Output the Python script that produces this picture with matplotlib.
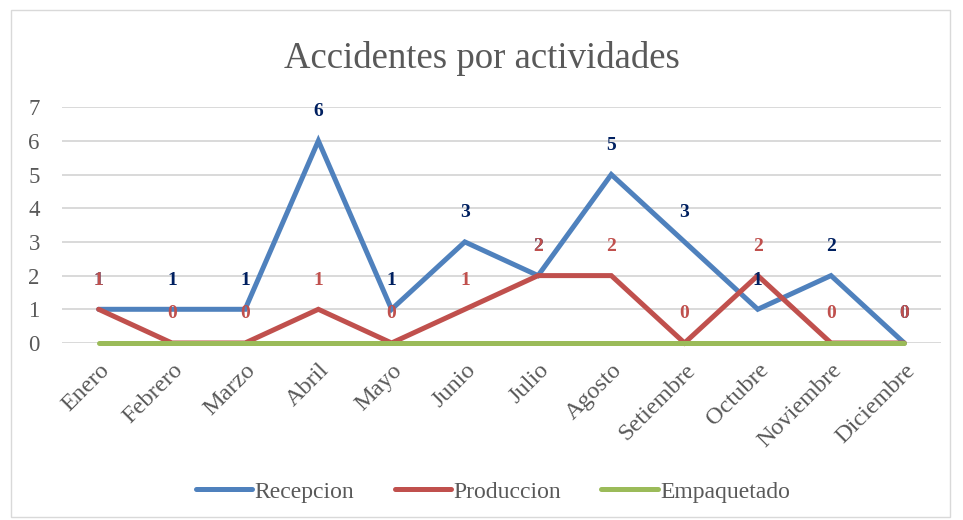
#!/usr/bin/python
########################
# PURPOSE: accidentes por actividades, line chart
########################

#################################
# Importing Modules
#################################
import matplotlib
matplotlib.use("Agg")
import matplotlib.pyplot as plt
from matplotlib.patches import Rectangle

#################################
# Defining Constants
#################################
meses = ["Enero", "Febrero", "Marzo", "Abril", "Mayo", "Junio", "Julio",
         "Agosto", "Setiembre", "Octubre", "Noviembre", "Diciembre"]
recepcion = [1, 1, 1, 6, 1, 3, 2, 5, 3, 1, 2, 0]
produccion = [1, 0, 0, 1, 0, 1, 2, 2, 0, 2, 0, 0]
empaquetado = [0, 0, 0, 0, 0, 0, 0, 0, 0, 0, 0, 0]

AZUL = "#4F81BD"
ROJO = "#C0504D"
VERDE = "#9BBB59"
GRIS = "#595959"
NAVY = "#002060"

#################################
# Performing Work
#################################
plt.rcParams["font.family"] = ["Liberation Serif", "DejaVu Serif"]

fig = plt.figure(figsize=(9.63, 5.20), dpi=100)
ax = fig.add_axes([0.0644, 0.3404, 0.977 - 0.0644, 0.794 - 0.3404])

x = list(range(len(meses)))
kw = dict(linewidth=3.6, solid_capstyle="round", solid_joinstyle="miter",
          clip_on=False)
ax.plot(x, recepcion, color=AZUL, label="Recepcion", zorder=3, **kw)
ax.plot(x, produccion, color=ROJO, label="Produccion", zorder=4, **kw)
ax.plot(x, empaquetado, color=VERDE, label="Empaquetado", zorder=5, **kw)

for xi, v in zip(x, recepcion):
    ax.annotate(str(v), (xi, v), xytext=(0, 21), textcoords="offset points",
                ha="center", va="center", fontsize=14, fontweight="bold",
                color=NAVY, zorder=6)
for xi, v in zip(x, produccion):
    ax.annotate(str(v), (xi, v), xytext=(0, 21), textcoords="offset points",
                ha="center", va="center", fontsize=14, fontweight="bold",
                color=ROJO, zorder=7)

ax.set_xlim(-0.5, len(meses) - 0.5)
ax.set_ylim(0, 7)
ax.set_yticks(range(0, 8))
ax.set_xticks(x)
ax.set_xticklabels(meses, rotation=45, ha="right", va="top",
                   rotation_mode="anchor", fontsize=17.5)
ax.tick_params(axis="both", length=0, labelcolor=GRIS)
ax.tick_params(axis="y", labelsize=16.5, pad=16)
ax.tick_params(axis="x", pad=12)
ax.grid(axis="y", color="#D9D9D9", linewidth=1.4)
ax.set_axisbelow(True)
for s in ax.spines.values():
    s.set_visible(False)

fig.text(0.5, 0.888, "Accidentes por actividades", ha="center", va="center",
         fontsize=26.5, color=GRIS)

fig.legend(loc="center", bbox_to_anchor=(0.512, 0.054), ncol=3, frameon=False,
           fontsize=17, labelcolor=GRIS, handlelength=2.4, handletextpad=0.1,
           columnspacing=1.7)

# borde del grafico
fig.patches.append(Rectangle((0.011, 0.006), 0.976, 0.975, transform=fig.transFigure,
                             fill=False, edgecolor="#D9D9D9", linewidth=1.0))

fig.savefig("out.png", dpi=100, facecolor="white")
